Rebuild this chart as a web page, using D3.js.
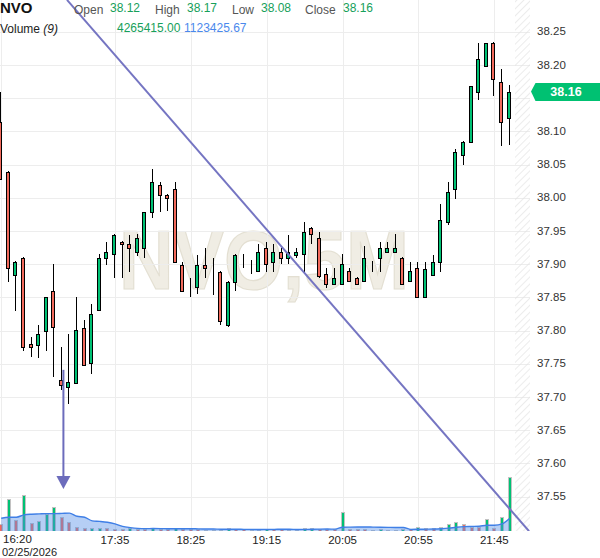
<!DOCTYPE html>
<html><head><meta charset="utf-8">
<script src="https://cdn.jsdelivr.net/npm/d3@7"></script>
<style>html,body{margin:0;padding:0;background:#fff;}svg{display:block;font-family:"Liberation Sans",Arial,sans-serif;}</style>
</head><body><svg id="c" width="600" height="558"></svg>
<script>
const times = ["16:20","16:25","16:30","16:35","16:40","16:45","16:50","16:55",
"17:00","17:05","17:10","17:15","17:20","17:25","17:30","17:35","17:40","17:45","17:50","17:55",
"18:00","18:05","18:10","18:15","18:20","18:25","18:30","18:35","18:40","18:45","18:50","18:55",
"19:00","19:05","19:10","19:15","19:20","19:25","19:30","19:35","19:40","19:45","19:50","19:55",
"20:00","20:05","20:10","20:15","20:20","20:25","20:30","20:35","20:40","20:45","20:50","20:55",
"21:00","21:05","21:10","21:15","21:20","21:25","21:30","21:35","21:40","21:45","21:50","21:55"];
const openV = [38.114,38.039,37.884,37.910,37.780,37.779,37.799,37.859,37.726,37.715,
37.721,37.804,37.751,37.831,37.910,37.915,37.934,37.930,37.919,37.925,
37.979,38.020,38.005,38.014,37.899,37.865,37.865,37.899,37.886,37.889,
37.808,37.874,37.909,37.900,37.890,37.925,37.904,37.919,37.910,37.914,
37.915,37.955,37.940,37.885,37.870,37.870,37.890,37.880,37.875,37.904,
37.910,37.919,37.919,37.910,37.875,37.895,37.850,37.884,37.904,37.964,
38.013,38.064,38.084,38.159,38.199,38.233,38.174,38.12];
const highV = [38.160,38.040,37.905,37.911,37.790,37.809,37.851,37.900,37.776,37.795,
37.850,37.816,37.840,37.915,37.934,37.945,37.935,37.944,37.945,37.979,
38.044,38.024,38.006,38.024,37.903,37.880,37.914,37.925,37.910,37.890,
37.875,37.915,37.915,37.907,37.930,37.933,37.930,37.925,37.944,37.925,
37.964,37.956,37.949,37.895,37.895,37.915,37.895,37.881,37.928,37.905,
37.934,37.934,37.945,37.911,37.904,37.904,37.904,37.914,37.990,38.024,
38.074,38.085,38.169,38.233,38.233,38.234,38.194,38.17];
const lowV = [38.028,37.874,37.830,37.770,37.760,37.759,37.770,37.730,37.710,37.690,
37.720,37.749,37.734,37.830,37.899,37.880,37.880,37.889,37.912,37.910,
37.969,37.979,37.980,37.904,37.859,37.850,37.855,37.880,37.854,37.809,
37.806,37.860,37.895,37.885,37.889,37.889,37.889,37.900,37.900,37.910,
37.889,37.930,37.880,37.864,37.869,37.869,37.874,37.869,37.874,37.889,
37.889,37.918,37.918,37.869,37.874,37.850,37.849,37.883,37.889,37.959,
37.998,38.049,38.083,38.148,38.198,38.154,38.078,38.08];
const closeV = [38.028,37.894,37.904,37.775,37.775,37.795,37.850,37.805,37.718,37.722,
37.801,37.749,37.825,37.910,37.919,37.944,37.930,37.925,37.940,37.979,
38.024,38.005,38.000,37.904,37.859,37.866,37.899,37.895,37.885,37.815,
37.874,37.914,37.909,37.900,37.919,37.900,37.919,37.910,37.919,37.919,
37.949,37.945,37.883,37.870,37.880,37.900,37.875,37.870,37.910,37.904,
37.925,37.925,37.925,37.870,37.890,37.850,37.893,37.904,37.967,38.009,
38.069,38.084,38.168,38.209,38.233,38.179,38.114,38.16];
const volumeV = [560000,2530000,880000,2820000,610000,820000,1330000,1940000,1090000,740000,
300000,210000,220000,230000,200000,170000,150000,220000,160000,140000,
250000,180000,150000,220000,160000,130000,120000,110000,100000,90000,
210000,150000,120000,110000,100000,180000,140000,120000,100000,90000,
200000,240000,180000,140000,120000,1540000,190000,150000,120000,100000,
130000,110000,90000,130000,120000,300000,210000,200000,350000,530000,
740000,530000,300000,280000,930000,270000,1140000,4265415];
const volMA = [1014000,1094000,1094000,1278000,1334000,1358000,1382000,1382000,1398000,1418000,
1170000,1096000,807000,764000,696000,567000,368000,271000,207000,189000,
193000,189000,180000,182000,181000,179000,168000,162000,158000,140000,
143000,143000,132000,127000,123000,130000,133000,136000,137000,123000,
129000,142000,150000,154000,148000,303000,311000,317000,320000,309000,
297000,289000,283000,284000,127000,139000,146000,154000,182000,227000,
297000,346000,364000,382000,452000,459000,563000,998000];
const xTickLabels = ["16:20","17:35","18:25","19:15","20:05","20:55","21:45"];
const dateLabel = "02/25/2026";
const yTickValues = [37.55,37.60,37.65,37.70,37.75,37.80,37.85,37.90,37.95,38.00,38.05,38.10,38.15,38.20,38.25];
const yHiddenLabels = [38.15];
const headerLabels = ["Open","High","Low","Close"];
const headerValues = ["38.12","38.17","38.08","38.16"];
const volumeHeader = ["4265415.00","1123425.67"];
const lastPrice = 38.16;
// drawing annotations (bar index, price)
const trendPts = [[8.674, 38.298],[69.58, 37.498]];
const arrowPts = {i: 8.2, top: 37.741, base: 37.581, tip: 37.5616};

const svg = d3.select("#c");
const defs = svg.append("defs");
defs.append("clipPath").attr("id","plotClip").append("rect").attr("x",0).attr("y",0).attr("width",530).attr("height",531);
const pat = defs.append("pattern").attr("id","hatch").attr("width",5).attr("height",5)
  .attr("patternUnits","userSpaceOnUse").attr("patternTransform","rotate(45)");
pat.append("line").attr("x1",0).attr("y1",0).attr("x2",0).attr("y2",5).attr("stroke","#e2e2e2").attr("stroke-width",1.3);

const x = d3.scalePoint().domain(times).range([1.2, 509.5]);
const xi = d3.scaleLinear().domain([0, times.length-1]).range([1.2, 509.5]);
const y = d3.scaleLinear().domain([37.55, 38.20]).range([496.7, 65]);
const vy = d3.scaleLinear().domain([0, 4265415]).range([531, 477.3]);
const px = v => Math.round(v) + 0.5;

const plot = svg.append("g").attr("clip-path","url(#plotClip)");

// watermark
plot.append("text").attr("x",119).attr("y",289).attr("font-size",84).attr("font-weight","bold")
  .attr("textLength",290).attr("lengthAdjust","spacingAndGlyphs")
  .attr("fill","#f0ede4").attr("stroke","#e3dfd2").attr("stroke-width",1.2).text("NVO,5M");

// grid
plot.selectAll(".hg").data(yTickValues).join("line")
  .attr("x1",0).attr("x2",530).attr("y1",d=>px(y(d))).attr("y2",d=>px(y(d)))
  .attr("stroke","#ededed").attr("stroke-width",1);
plot.selectAll(".vg").data(xTickLabels).join("line")
  .attr("x1",d=>px(x(d))).attr("x2",d=>px(x(d))).attr("y1",0).attr("y2",531)
  .attr("stroke","#ededed").attr("stroke-width",1);

// hatched future area
plot.append("rect").attr("x",515).attr("y",0).attr("width",15).attr("height",531).attr("fill","url(#hatch)");

// volume bars
const GREEN = "#00c174", RED = "#f26a5c";
plot.selectAll(".vb").data(volumeV).join("rect")
  .attr("x",(d,i)=>Math.round(x(times[i]))-1.5)
  .attr("width",3)
  .attr("y",d=>px(vy(d)))
  .attr("height",d=>Math.max(531 - px(vy(d)),0.5)+1)
  .attr("fill",(d,i)=> i>0 && d>volumeV[i-1] ? GREEN : RED)
  .attr("stroke","#c2c2c2").attr("stroke-width",1);

// volume MA area
const area = d3.area().x((d,i)=>x(times[i])).y0(531).y1(d=>vy(d)).curve(d3.curveMonotoneX);
plot.append("path").datum(volMA).attr("d",area).attr("fill","rgba(80,140,230,0.42)");
const maLine = d3.line().x((d,i)=>x(times[i])).y(d=>vy(d)).curve(d3.curveMonotoneX);
plot.append("path").datum(volMA).attr("d",maLine).attr("fill","none").attr("stroke","#3f7fe6").attr("stroke-width",1.4);

// candles
const cg = plot.append("g");
times.forEach((t,i)=>{
  const cx = Math.round(x(t));
  const o=openV[i], c=closeV[i], h=highV[i], l=lowV[i];
  cg.append("line").attr("x1",cx-0.5).attr("x2",cx-0.5)
    .attr("y1",Math.round(y(h))).attr("y2",Math.round(y(l))).attr("stroke","#000").attr("stroke-width",1);
  const yt = px(y(Math.max(o,c))), yb = px(y(Math.min(o,c)));
  cg.append("rect").attr("x",cx-2.5).attr("width",3).attr("y",yt).attr("height",Math.max(yb-yt,0))
    .attr("fill", c>=o ? GREEN : RED).attr("stroke","#000").attr("stroke-width",1);
});

// trend line
plot.append("path").datum(trendPts)
  .attr("d",d3.line().x(d=>xi(d[0])).y(d=>y(d[1])))
  .attr("stroke","#7575c2").attr("stroke-width",2).attr("fill","none");

// arrow
const ax = xi(arrowPts.i);
plot.append("line").attr("x1",ax).attr("x2",ax).attr("y1",y(arrowPts.top)).attr("y2",y(arrowPts.base))
  .attr("stroke","#6c6cbc").attr("stroke-width",2);
plot.append("path").attr("d",`M${ax-7},${y(arrowPts.base)}L${ax+7},${y(arrowPts.base)}L${ax},${y(arrowPts.tip)}Z`)
  .attr("fill","#6c6cbc");

// y axis labels
svg.selectAll(".yl").data(yTickValues.filter(v=>!yHiddenLabels.includes(v))).join("text")
  .attr("x",537).attr("y",d=>y(d)+3.5).attr("font-size",11.5).attr("fill","#333")
  .text(d=>d3.format(".2f")(d));

// price tag
const ty = y(lastPrice);
svg.append("path").attr("d",`M531,${ty}L535.5,${ty-8.5}H600V${ty+9.5}H535.5Z`).attr("fill","#00c172");
svg.append("text").attr("x",566).attr("y",ty+4.5).attr("text-anchor","middle").attr("font-size",12.5)
  .attr("font-weight","bold").attr("fill","#fff").text(d3.format(".2f")(lastPrice));

// x axis labels
svg.selectAll(".xl").data(xTickLabels).join("text")
  .attr("x",(d,i)=> i===0 ? 3 : x(d)).attr("y",(d,i)=> i===0 ? 543 : 544)
  .attr("text-anchor",(d,i)=> i===0 ? "start" : "middle")
  .attr("font-size",11.5).attr("fill","#222").text(d=>d);
svg.append("text").attr("x",2).attr("y",556).attr("font-size",11).attr("fill","#222").text(dateLabel);

// header
svg.append("text").attr("x",0).attr("y",13).attr("font-size",15).attr("font-weight","bold").attr("fill","#111").text("NVO");
const hLabX = [74,155,232,305], hValX = [110,187,261,343];
headerLabels.forEach((l,i)=>{
  svg.append("text").attr("x",hLabX[i]).attr("y",14).attr("font-size",12).attr("fill","#555").text(l);
  svg.append("text").attr("x",hValX[i]).attr("y",11.5).attr("font-size",12).attr("fill","#16a05a").text(headerValues[i]);
});
const vt = svg.append("text").attr("x",0).attr("y",33).attr("font-size",12).attr("fill","#222");
vt.append("tspan").text("Volume ");
vt.append("tspan").attr("font-style","italic").text("(9)");
svg.append("text").attr("x",117).attr("y",31.5).attr("font-size",12).attr("fill","#16a05a").text(volumeHeader[0]);
svg.append("text").attr("x",184).attr("y",31.5).attr("font-size",12).attr("fill","#4a88ec").text(volumeHeader[1]);
</script></body></html>
